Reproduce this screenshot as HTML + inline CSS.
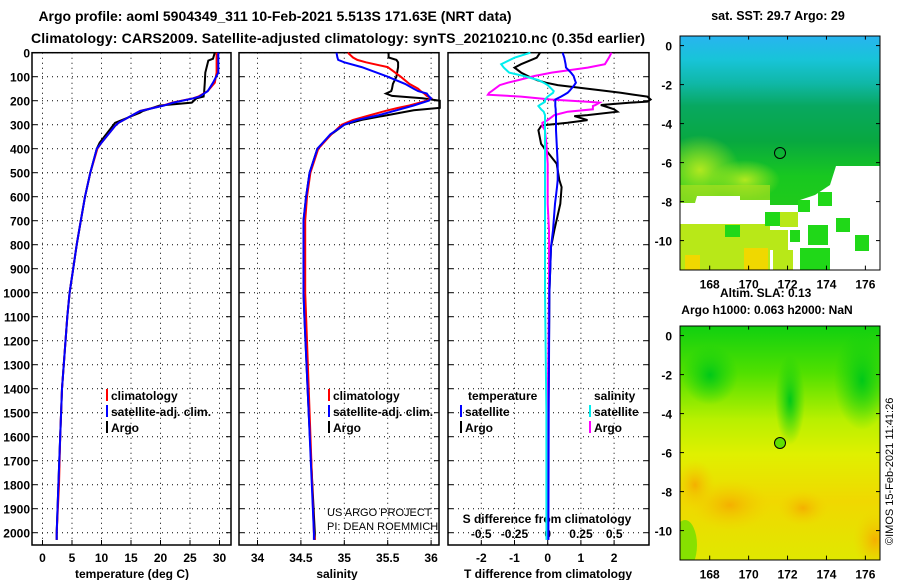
<!DOCTYPE html>
<html><head><meta charset="utf-8"><style>
body{margin:0;background:#fff}
svg{display:block;font-family:"Liberation Sans",sans-serif;font-weight:bold}
</style></head><body>
<svg id="c" width="900" height="580" viewBox="0 0 900 580" xmlns="http://www.w3.org/2000/svg">
<defs>
<linearGradient id="g1" x1="0" y1="0" x2="0" y2="1">
<stop offset="0" stop-color="#28b4f0"/><stop offset="0.1" stop-color="#18c4d8"/>
<stop offset="0.2" stop-color="#10b8a8"/><stop offset="0.3" stop-color="#08a860"/>
<stop offset="0.45" stop-color="#08a840"/><stop offset="0.6" stop-color="#18c820"/><stop offset="1" stop-color="#30d010"/>
</linearGradient>
<linearGradient id="g2" x1="0" y1="0" x2="0" y2="1">
<stop offset="0" stop-color="#10d010"/><stop offset="0.2" stop-color="#50e000"/>
<stop offset="0.4" stop-color="#b8f000"/><stop offset="0.55" stop-color="#e0f000"/><stop offset="0.75" stop-color="#f0d800"/>
<stop offset="1" stop-color="#e0e800"/>
</linearGradient>
<radialGradient id="or"><stop offset="0" stop-color="#f4b000"/><stop offset="1" stop-color="#f0d000" stop-opacity="0"/></radialGradient>
<radialGradient id="gr"><stop offset="0" stop-color="#00c818"/><stop offset="1" stop-color="#10d010" stop-opacity="0"/></radialGradient>
<radialGradient id="lime"><stop offset="0" stop-color="#b0e820"/><stop offset="1" stop-color="#b0e820" stop-opacity="0"/></radialGradient>
<clipPath id="m1"><rect x="680" y="36" width="200" height="234"/></clipPath>
<clipPath id="m2"><rect x="680" y="326" width="200" height="234"/></clipPath>
</defs>
<g id="titles">
<text x="275" y="21" text-anchor="middle" font-size="14">Argo profile: aoml 5904349_311 10-Feb-2021 5.513S 171.63E (NRT data)</text>
<text x="338" y="43" text-anchor="middle" font-size="14" textLength="614">Climatology: CARS2009. Satellite-adjusted climatology: synTS_20210210.nc (0.35d earlier)</text>
</g>
<g id="maps">
<text x="778" y="20" text-anchor="middle" font-size="12.5">sat. SST: 29.7 Argo: 29</text>
<g clip-path="url(#m1)">
<rect x="680" y="36" width="200" height="234" fill="url(#g1)"/>
<ellipse cx="700" cy="170" rx="40" ry="35" fill="url(#lime)"/>
<ellipse cx="745" cy="180" rx="35" ry="20" fill="url(#lime)"/>
<rect x="680" y="185" width="90" height="20" fill="#a8e020" opacity="0.7"/>
<g fill="#fff">
<polygon points="680,203 695,203 697,196 740,196 740,200 770,200 770,205 800,205 800,200 815,195 830,185 836,166 880,166 880,270 680,270"/>
</g>
<g fill="#b8e818"><rect x="680" y="224" width="90" height="46"/><rect x="760" y="230" width="28" height="20"/><rect x="780" y="212" width="18" height="15"/><rect x="773" y="250" width="20" height="20"/></g>
<g fill="#f0d800"><rect x="744" y="248" width="24" height="22"/><rect x="685" y="255" width="15" height="15"/></g>
<g fill="#20d818"><rect x="798" y="200" width="12" height="12"/><rect x="818" y="192" width="14" height="14"/><rect x="836" y="218" width="14" height="14"/><rect x="855" y="235" width="14" height="16"/><rect x="808" y="225" width="20" height="20"/><rect x="800" y="248" width="30" height="22"/><rect x="765" y="212" width="15" height="14"/><rect x="725" y="225" width="15" height="12"/><rect x="790" y="230" width="10" height="12"/></g>
</g>
<rect x="680" y="36" width="200" height="234" fill="none" stroke="#000"/>
<circle cx="780" cy="153" r="5.5" fill="none" stroke="#000"/>
<text x="720" y="297" font-size="12">Altim. SLA: 0.13</text>
<text x="767" y="314" text-anchor="middle" font-size="12">Argo h1000: 0.063 h2000: NaN</text>
<g clip-path="url(#m2)">
<rect x="680" y="326" width="200" height="234" fill="url(#g2)"/>
<ellipse cx="730" cy="505" rx="40" ry="25" fill="url(#or)"/><ellipse cx="803" cy="508" rx="25" ry="18" fill="url(#or)"/><ellipse cx="875" cy="540" rx="22" ry="30" fill="url(#or)"/><ellipse cx="695" cy="485" rx="20" ry="25" fill="url(#or)"/>
<ellipse cx="790" cy="400" rx="15" ry="45" fill="url(#gr)"/><ellipse cx="710" cy="375" rx="28" ry="30" fill="url(#gr)"/><ellipse cx="862" cy="380" rx="28" ry="50" fill="url(#gr)"/>
<ellipse cx="685" cy="545" rx="12" ry="25" fill="#60e000" opacity="0.7"/>
</g>
<rect x="680" y="326" width="200" height="234" fill="none" stroke="#000"/>
<circle cx="780" cy="443" r="5.5" fill="#60e000" stroke="#000"/>
<text transform="translate(893,545) rotate(-90)" font-size="11" font-weight="normal">©IMOS 15-Feb-2021 11:41:26</text>
</g>
<g id="plots"></g>
</svg>
<script>
// ===== data =====
const depthTicks=[0,100,200,300,400,500,600,700,800,900,1000,1100,1200,1300,1400,1500,1600,1700,1800,1900,2000];
const tempTicks=[0,5,10,15,20,25,30];
const salTicks=[34,34.5,35,35.5,36];
const tdiffTicks=[-2,-1,0,1,2];
const sdiffTickLabels=["-0.5","-0.25","0","0.25","0.5"];
const sdiffTicks=[-0.5,-0.25,0,0.25,0.5];
const tempDepths=[0,25,33,83,125,160,183,190,208,220,243,250,292,305,375,400,500,600,700,800,900,1000,1100,1400,1600,1800,2000,2030];
const tempArgo=[29.2,28.9,28.1,27.6,27.5,27.4,27.3,26.1,25.3,19.9,17.0,16.5,12.3,11.9,9.7,9.2,8.1,7.2,6.5,5.8,5.2,4.6,4.2,3.3,3.0,2.7,2.4,2.4];
const tempClim=[29.5,29.5,29.5,29.5,29.2,28.0,26.4,25.5,22.0,20.5,16.5,16.0,12.9,12.3,10.0,9.3,8.1,7.2,6.5,5.8,5.2,4.6,4.2,3.3,3.0,2.8,2.4,2.4];
const tempSat=[29.8,29.8,29.8,29.8,28.9,28.0,26.6,25.6,22.2,20.6,16.6,16.0,12.9,12.3,10.0,9.2,8.1,7.2,6.5,5.8,5.2,4.6,4.2,3.3,3.0,2.7,2.4,2.4];
const salDepths=[0,20,30,40,60,100,130,150,160,170,180,190,200,220,230,240,260,280,300,340,400,500,600,700,900,1000,1100,1500,2000,2030];
const salArgo=[35.51,35.51,35.6,35.62,35.62,35.6,35.56,35.55,35.54,35.48,35.55,35.9,36.1,36.1,36.1,35.8,35.5,35.2,35.0,34.85,34.69,34.6,34.56,34.53,34.53,34.53,34.54,34.59,34.66,34.66];
const salClim=[35.04,35.1,35.15,35.25,35.5,35.65,35.75,35.85,35.88,35.92,35.95,36.0,35.95,35.75,35.62,35.5,35.3,35.1,34.97,34.85,34.7,34.61,34.57,34.55,34.55,34.55,34.56,34.6,34.65,34.66];
const salSat=[34.91,34.92,34.93,35.0,35.2,35.5,35.7,35.8,35.85,35.95,35.97,36.0,35.97,35.8,35.7,35.6,35.4,35.15,35.0,34.84,34.69,34.6,34.56,34.53,34.53,34.53,34.54,34.59,34.65,34.65];
const diffDepths=[0,21,48,62,83,97,114,125,135,160,167,175,183,195,204,208,218,222,236,246,260,264,281,292,302,306,323,380,463,530,560,630,740,810,1000,1500,2000,2030];
const tdiffArgo=[-0.23,-0.33,-0.8,-1.0,-0.8,-0.6,-0.33,-0.05,0.3,1.8,2.2,2.6,3.0,3.1,3.0,2.5,1.6,1.7,2.0,2.1,1.2,0.8,1.2,0.6,-0.13,-0.2,-0.28,-0.2,0.27,0.35,0.42,0.38,0.2,0.1,0.05,0.02,0.0,0.0];
const tdiffSat=[0.45,0.5,0.54,0.55,0.7,0.78,0.82,0.85,0.8,0.65,0.6,0.5,0.4,0.23,0.23,0.23,0.23,0.23,0.24,0.24,0.25,0.25,0.25,0.25,0.25,0.25,0.25,0.27,0.3,0.3,0.28,0.22,0.16,0.1,0.05,0.03,0.02,0.02];
const sdiffArgo=[0.48,0.46,0.43,0.3,0.03,-0.1,-0.22,-0.3,-0.36,-0.42,-0.44,-0.45,-0.2,0.02,0.3,0.39,0.36,0.34,0.34,0.15,0.05,0.04,0.0,-0.04,-0.04,-0.04,-0.02,-0.01,0.0,0.0,0.0,0.0,0.01,0.01,0.01,0.0,0.0,0.0];
const sdiffSat=[-0.13,-0.25,-0.35,-0.33,-0.29,-0.18,-0.07,-0.03,0.0,0.045,0.04,0.02,0.0,-0.02,-0.02,-0.03,-0.06,-0.07,-0.05,-0.03,-0.02,-0.02,-0.02,-0.02,-0.02,-0.02,-0.02,-0.02,-0.02,-0.02,-0.02,-0.02,-0.02,-0.02,-0.02,-0.01,-0.01,-0.01];
// ===== axes =====
const NS="http://www.w3.org/2000/svg";
const plots=document.getElementById('plots');
const yD=d=>52.7+d*0.24;
const Y0=52.7,Y1=545;
const xT=v=>42.5+v*5.9;
const xS=v=>257.5+(v-34)*86.8;
const xTd=v=>547.7+v*33.2;
const xSd=v=>547.7+v*133;
function mk(tag,attrs,parent){const e=document.createElementNS(NS,tag);for(const k in attrs)e.setAttribute(k,attrs[k]);(parent||plots).appendChild(e);return e;}
function txt(x,y,s,size,anchor,name,weight){const t=mk('text',{x:x,y:y,'font-size':size,'text-anchor':anchor||'middle'});if(weight)t.setAttribute('font-weight',weight);t.textContent=s;


return t;}
function panel(x0,x1,ticks,xf,labels,name){
  const g=mk('g',{});
  
  
  depthTicks.forEach(d=>{mk('line',{x1:x0,x2:x1,y1:yD(d),y2:yD(d),stroke:'#000','stroke-dasharray':'1,4','stroke-width':1},g);
    mk('line',{x1:x0,x2:x0+5,y1:yD(d),y2:yD(d),stroke:'#000'},g);mk('line',{x1:x1-5,x2:x1,y1:yD(d),y2:yD(d),stroke:'#000'},g);});
  ticks.forEach((v,i)=>{const x=xf(v);mk('line',{x1:x,x2:x,y1:Y0,y2:Y1,stroke:'#000','stroke-dasharray':'1,4'},g);
    mk('line',{x1:x,x2:x,y1:Y1-5,y2:Y1,stroke:'#000'},g);
    if(labels) {const t=txt(x,562,labels[i],12,'middle','x-tick-label',null);g.appendChild(t);}});
  const r=mk('rect',{x:x0,y:Y0,width:x1-x0,height:Y1-Y0,fill:'none',stroke:'#000','stroke-width':1.5},g);
  
  
}
panel(32,231,tempTicks,xT,tempTicks.map(String),'temperature-panel');
panel(239,439,salTicks,xS,salTicks.map(String),'salinity-panel');
panel(448,649,tdiffTicks,xTd,tdiffTicks.map(String),'difference-panel');
depthTicks.forEach(d=>{txt(30,yD(d)+5,String(d),12,'end','y-tick-label');});
sdiffTicks.forEach((v,i)=>{txt(xSd(v),538,sdiffTickLabels[i],12,'middle','s-diff-tick-label');});
txt(132,578,'temperature (deg C)',12,'middle','x-axis-title-temperature');
txt(337,578,'salinity',12,'middle','x-axis-title-salinity');
txt(548,578,'T difference from climatology',12,'middle','x-axis-title-t-difference');
txt(547,523,'S difference from climatology',12,'middle','s-difference-title');
txt(327,516,'US ARGO PROJECT',11,'start','credit-project','normal');
txt(327,530,'PI: DEAN ROEMMICH',11,'start','credit-pi','normal');
function line(xs,ds,xf,color,name){
  const p=xs.map((v,i)=>(i?'L':'M')+xf(v).toFixed(1)+','+yD(ds[i]).toFixed(1)).join(' ');
  const e=mk('path',{d:p,fill:'none',stroke:color,'stroke-width':2});
  
  
}
line(tempArgo,tempDepths,xT,'#000','temp-argo-line');
line(tempClim,tempDepths,xT,'#f00','temp-climatology-line');
line(tempSat,tempDepths,xT,'#00f','temp-satellite-line');
line(salArgo,salDepths,xS,'#000','salinity-argo-line');
line(salClim,salDepths,xS,'#f00','salinity-climatology-line');
line(salSat,salDepths,xS,'#00f','salinity-satellite-line');
line(tdiffArgo,diffDepths,xTd,'#000','t-diff-argo-line');
line(sdiffArgo,diffDepths,xSd,'#f0f','s-diff-argo-line');
line(sdiffSat,diffDepths,xSd,'#0ee','s-diff-satellite-line');
line(tdiffSat,diffDepths,xTd,'#00f','t-diff-satellite-line');
// legends
function leg(x,y,color,label,name){
  const r=mk('rect',{x:x,y:y-11,width:2,height:12,fill:color});
  
  
  txt(x+5,y,label,12,'start',name);
}
[[106,'#f00','climatology'],[106,'#00f','satellite-adj. clim.'],[106,'#000','Argo']].forEach((l,i)=>leg(l[0],400+i*16,l[1],l[2],'temp-legend-'+i));
[[328,'#f00','climatology'],[328,'#00f','satellite-adj. clim.'],[328,'#000','Argo']].forEach((l,i)=>leg(l[0],400+i*16,l[1],l[2],'sal-legend-'+i));
txt(468,400,'temperature',12,'start','legend-temperature-header');
txt(594,400,'salinity',12,'start','legend-salinity-header');
leg(460,416,'#00f','satellite','legend-t-satellite');
leg(460,432,'#000','Argo','legend-t-argo');
leg(589,416,'#0ee','satellite','legend-s-satellite');
leg(589,432,'#f0f','Argo','legend-s-argo');
// map axes
const mapLat=[0,-2,-4,-6,-8,-10], mapLon=[168,170,172,174,176];
[[45.6,'map1'],[335.6,'map2']].forEach(([top,n])=>{
  const base=top-10;
  mapLat.forEach(v=>{const y=top-v*19.5;
    mk('line',{x1:680,x2:684,y1:y,y2:y,stroke:'#000'});mk('line',{x1:876,x2:880,y1:y,y2:y,stroke:'#000'});
    txt(672,y+5,String(v),12,'end',n+'-lat-label');});
  mapLon.forEach(v=>{const x=709.7+(v-168)*19.46;
    mk('line',{x1:x,x2:x,y1:base,y2:base+4,stroke:'#000'});mk('line',{x1:x,x2:x,y1:base+230,y2:base+234,stroke:'#000'});
    txt(x,base+253,String(v),12,'middle',n+'-lon-label');});
});
</script>
</body></html>
